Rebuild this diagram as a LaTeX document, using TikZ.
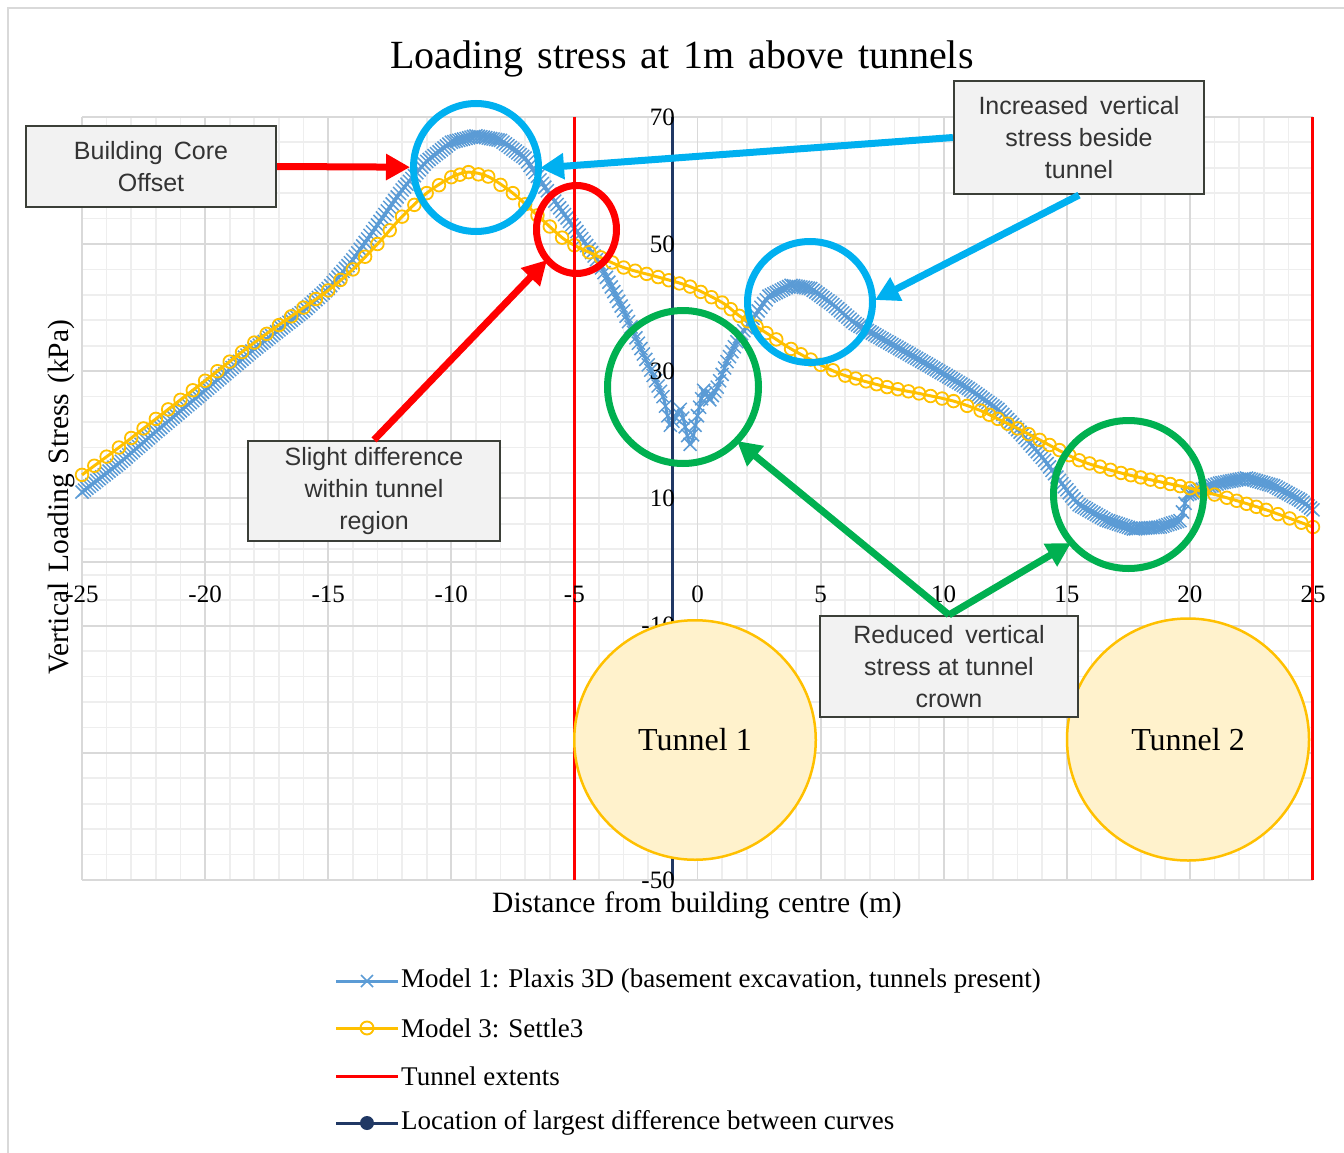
\documentclass[tikz,border=0pt]{standalone}
\usepackage{fontspec}
\setmainfont{Liberation Serif}
\newfontfamily\calloutfont{Liberation Sans}
\usetikzlibrary{arrows.meta,shapes.geometric}

\definecolor{seriesblue}{HTML}{5B9BD5}
\definecolor{seriesgold}{HTML}{FFC000}
\definecolor{tunnelfill}{HTML}{FFF2CC}
\definecolor{navyline}{HTML}{203864}
\definecolor{hiblue}{HTML}{00B0F0}
\definecolor{hired}{HTML}{FF0000}
\definecolor{higreen}{HTML}{00B050}
\definecolor{gridmajor}{HTML}{D9D9D9}
\definecolor{gridminor}{HTML}{EEEEEE}
\definecolor{boxfill}{HTML}{F2F2F2}
\definecolor{boxedge}{HTML}{3B3F38}
\definecolor{boxtext}{HTML}{333333}

% sampled curves: distance (m) / vertical stress (kPa)
\def\plaxisdata{-25/11, -23.5/15.5, -22/20.5, -20/27, -18/33.5, -16/39.5, -15/43, -14/47.5,
  -13/53, -12/58.5, -11/63, -10/66, -9/67, -8/66.3, -7/63.5, -6/57.8, -5/52.5,
  -4/47, -3/39.5, -2/31, -1.4/26, -1.1/21.5, -0.7/24, -0.3/18.5, 0/23, 0.25/27,
  0.5/25.5, 0.8/27.5, 1.2/31.5, 1.7/35.4, 2.25/38.3, 2.9/41.8, 3.8/43.5, 4.6/43,
  5.5/40.5, 6.4/37.5, 8/34, 9.5/30.7, 11/27.3, 12.2/24, 13.2/20, 14.1/16,
  14.8/12.3, 15.5/9, 16.6/6.6, 17.7/5.2, 18.8/5.5, 19.6/6.5, 19.9/10.6, 20.4/11.3,
  21.2/12.4, 22.3/13.2, 23.4/12, 24.5/9.7, 25/8.2}
\def\settledata{-25/13.7, -23.5/18, -22/22.5, -20/28.5, -18/34.5, -16/40, -15/42.7, -14/46,
  -13/50, -12/54.3, -11/58, -10/60.5, -9.3/61.3, -8.5/60.6, -7.5/58, -6.5/54.5,
  -5.5/51, -5/49.8, -4.4/48.7, -3/46.3, -1.6/44.8, -0.3/43.3, 1/40.8, 1.7/38.7,
  2.4/37, 3.2/35, 3.8/33.5, 5/31, 6/29.3, 7.7/27.5, 9/26.5, 10.4/25.3, 11.5/23.8,
  12.2/22.5, 13/21, 13.9/19.2, 15.5/16, 17.2/14, 18.8/12.6, 20/11.6, 21.5/10.1,
  23.1/8.2, 25/5.5}

\begin{document}
\begin{tikzpicture}[x=1pt,y=-1pt,
  minorgrid/.style={draw=gridminor, line width=1.7pt},
  majorgrid/.style={draw=gridmajor, line width=1.9pt},
  ticklabel/.style={font=\fontsize{25}{25}\selectfont, inner sep=0pt},
  axistitle/.style={font=\fontsize{29.5}{29.5}\selectfont, inner sep=0pt},
  legendtext/.style={font=\fontsize{27}{27}\selectfont, inner sep=0pt, anchor=west},
  callout/.style={draw=boxedge, fill=boxfill, line width=2.2pt,
    font=\calloutfont\fontsize{25}{32}\selectfont, text=boxtext,
    align=center, inner sep=0pt},
  ring/.style={ellipse, draw, line width=7pt, inner sep=0pt},
  pointer/.style={line width=7pt, -{Triangle[length=24pt,width=25pt]}},
  tunnel/.style={ellipse, draw=seriesgold, fill=tunnelfill, line width=2.5pt,
    inner sep=0pt, font=\fontsize{32}{32}\selectfont},
  xmark/.style={draw=seriesblue, line width=1.5pt},
  omark/.style={draw=seriesgold, line width=1.8pt},
]
\useasboundingbox (0,0) rectangle (1344,1153);

% chart frame
\draw[draw=gridmajor, line width=2pt] (8,1153) -- (8,8) -- (1344,8);

% grid: minor lines every 1 m and every 4 kPa
\foreach \i in {0,...,50}{
  \pgfmathsetmacro\gx{82+24.62*\i}
  \draw[minorgrid] (\gx,117) -- (\gx,880);
}
\foreach \k in {0,...,30}{
  \pgfmathsetmacro\gy{880-25.44*\k}
  \draw[minorgrid] (82,\gy) -- (1313,\gy);
}
% grid: major lines every 5 m and every 20 kPa, plus the zero line
\foreach \i in {0,5,...,50}{
  \pgfmathsetmacro\gx{82+24.62*\i}
  \draw[majorgrid] (\gx,117) -- (\gx,880);
}
\foreach \k in {0,5,...,30}{
  \pgfmathsetmacro\gy{880-25.44*\k}
  \draw[majorgrid] (82,\gy) -- (1313,\gy);
}
\draw[majorgrid] (82,562) -- (1313,562);

% data series in chart units (m, kPa)
\begin{scope}[shift={(697.5,562)}, x=24.62pt, y=6.36pt]
  % Model 1: line, then a cross every 0.1 m
  \draw[seriesblue, line width=3pt, line join=round] plot[smooth, tension=0.5] coordinates {
    (-25,11) (-23.5,15.5) (-22,20.5) (-20,27) (-18,33.5) (-16,39.5) (-15,43) (-14,47.5)
    (-13,53) (-12,58.5) (-11,63) (-10,66) (-9,67) (-8,66.3) (-7,63.5) (-6,57.8) (-5,52.5)
    (-4,47) (-3,39.5) (-2,31) (-1.4,26) (-1.1,21.5) (-0.7,24) (-0.3,18.5) (0,23) (0.25,27)
    (0.5,25.5) (0.8,27.5) (1.2,31.5) (1.7,35.4) (2.25,38.3) (2.9,41.8) (3.8,43.5) (4.6,43)
    (5.5,40.5) (6.4,37.5) (8,34) (9.5,30.7) (11,27.3) (12.2,24) (13.2,20) (14.1,16)
    (14.8,12.3) (15.5,9) (16.6,6.6) (17.7,5.2) (18.8,5.5) (19.6,6.5) (19.9,10.6) (20.4,11.3)
    (21.2,12.4) (22.3,13.2) (23.4,12) (24.5,9.7) (25,8.2)};
  \foreach \cx/\cv [remember=\cx as \lx (initially -25), remember=\cv as \lv (initially 11)] in \plaxisdata {
    \pgfmathtruncatemacro\nsteps{max(1,round(abs(\cx-\lx)/0.1))}
    \foreach \j in {1,...,\nsteps}{
      \pgfmathsetmacro\mx{\lx+(\cx-\lx)*\j/\nsteps}
      \pgfmathsetmacro\mv{\lv+(\cv-\lv)*\j/\nsteps}
      \draw[xmark] (\mx,\mv) +(-6.5pt,-6.5pt) -- +(6.5pt,6.5pt)
                   (\mx,\mv) +(-6.5pt,6.5pt) -- +(6.5pt,-6.5pt);
    }
  }
  % Model 3: line, then a ring every data point
  \draw[seriesgold, line width=3pt, line join=round] plot[smooth, tension=0.5] coordinates {
    (-25,13.7) (-23.5,18) (-22,22.5) (-20,28.5) (-18,34.5) (-16,40) (-15,42.7) (-14,46)
    (-13,50) (-12,54.3) (-11,58) (-10,60.5) (-9.3,61.3) (-8.5,60.6) (-7.5,58) (-6.5,54.5)
    (-5.5,51) (-5,49.8) (-4.4,48.7) (-3,46.3) (-1.6,44.8) (-0.3,43.3) (1,40.8) (1.7,38.7)
    (2.4,37) (3.2,35) (3.8,33.5) (5,31) (6,29.3) (7.7,27.5) (9,26.5) (10.4,25.3) (11.5,23.8)
    (12.2,22.5) (13,21) (13.9,19.2) (15.5,16) (17.2,14) (18.8,12.6) (20,11.6) (21.5,10.1)
    (23.1,8.2) (25,5.5)};
  \foreach \cx/\cv [remember=\cx as \lx (initially -25), remember=\cv as \lv (initially 13.7)] in \settledata {
    \pgfmathtruncatemacro\nsteps{max(1,round(abs(\cx-\lx)/0.45))}
    \foreach \j in {1,...,\nsteps}{
      \pgfmathsetmacro\mx{\lx+(\cx-\lx)*\j/\nsteps}
      \pgfmathsetmacro\mv{\lv+(\cv-\lv)*\j/\nsteps}
      \draw[omark] (\mx,\mv) circle[radius=6.3pt];
    }
  }
\end{scope}

% tunnel extents and location of largest difference
\draw[hired, line width=3pt] (574.4,117) -- (574.4,880);
\draw[hired, line width=3pt] (1312,117) -- (1312,880);
\draw[navyline, line width=3pt] (672.9,117) -- (672.9,880);

% tick labels
\foreach \tv/\py in {70/117, 50/244.2, 30/371.4, 10/498.4, -10/625.6, -50/880}{
  \node[ticklabel, anchor=east] (ytick\tv) at (675,\py) {\tv};
}
\foreach \tv in {-25,-20,-15,-10,-5,0,5,10,15,20,25}{
  \pgfmathsetmacro\tx{697.5+24.62*\tv}
  \node[ticklabel] (xtick\tv) at (\tx,594) {\tv};
}

% titles
\node[font=\fontsize{40}{40}\selectfont, inner sep=0pt] (title) at (682,59)
  {\spaceskip=14pt\relax Loading stress at 1m above tunnels};
\node[axistitle] (xtitle) at (697,905) {\spaceskip=9pt\relax Distance from building centre (m)};
\node[axistitle, rotate=90] (ytitle) at (61,497) {\spaceskip=10pt\relax Vertical Loading Stress (kPa)};

% tunnels
\node[tunnel, minimum width=241.5pt, minimum height=239.5pt] (tunnelA) at (695,740) {Tunnel 1};
\node[tunnel, minimum width=242pt, minimum height=242pt] (tunnelB) at (1188,739.5) {Tunnel 2};

% highlight rings
\node[ring, draw=hiblue, minimum width=125pt, minimum height=128pt] (ringA) at (476,167.5) {};
\node[ring, draw=hired, minimum width=80pt, minimum height=88pt] (ringB) at (576.5,229.5) {};
\node[ring, draw=hiblue, minimum width=125pt, minimum height=121pt] (ringC) at (810,302) {};
\node[ring, draw=higreen, minimum width=151pt, minimum height=153pt] (ringD) at (683,387) {};
\node[ring, draw=higreen, minimum width=150pt, minimum height=148pt] (ringE) at (1128.5,494.5) {};

% callout boxes
\node[callout, minimum width=250pt, minimum height=81pt] (core) at (151,166.5)
  {Building\hspace{4pt} Core\\Offset};
\node[callout, minimum width=252pt, minimum height=100pt] (slight) at (374,491)
  {Slight difference\\within tunnel\\region};
\node[callout, minimum width=250pt, minimum height=113pt] (increased) at (1079,137.5)
  {Increased\hspace{5pt} vertical\\stress beside\\tunnel};
\node[callout, minimum width=258pt, minimum height=101pt] (reduced) at (949,666.5)
  {Reduced\hspace{5pt} vertical\\stress at tunnel\\crown};

% pointer tips
\coordinate (tipA) at (540,168);
\coordinate (tipB) at (547,260);
\coordinate (tipC) at (875,300);
\coordinate (tipD) at (737,441);
\coordinate (tipE) at (1071,543);

% pointers
\draw[pointer, hired] (core.east) -- (ringA);
\draw[pointer, hired] (slight.north) -- (tipB);
\draw[pointer, hiblue] (increased.west) -- (tipA);
\draw[pointer, hiblue] (increased.south) -- (tipC);
\draw[pointer, higreen] (reduced.north) -- (tipD);
\draw[pointer, higreen] (reduced.north) -- (tipE);

% legend
\draw[seriesblue, line width=3pt] (336,981) -- (398,981);
\draw[seriesblue, line width=1.6pt] (361,975) -- (373,987) (361,987) -- (373,975);
\node[legendtext] (legA) at (401,981) {Model 1: Plaxis 3D (basement excavation, tunnels present)};
\draw[seriesgold, line width=3pt] (336,1028) -- (398,1028);
\draw[seriesgold, line width=1.9pt] (367,1028) circle[radius=6.5pt];
\node[legendtext] (legB) at (401,1028) {Model 3: Settle3};
\draw[hired, line width=3pt] (336,1076) -- (398,1076);
\node[legendtext] (legC) at (401,1076) {Tunnel extents};
\draw[navyline, line width=3pt] (336,1123) -- (398,1123);
\fill[navyline] (367,1123) circle[radius=7pt];
\node[legendtext] (legD) at (401,1123) {Location of largest difference between curves};
\end{tikzpicture}
\end{document}
